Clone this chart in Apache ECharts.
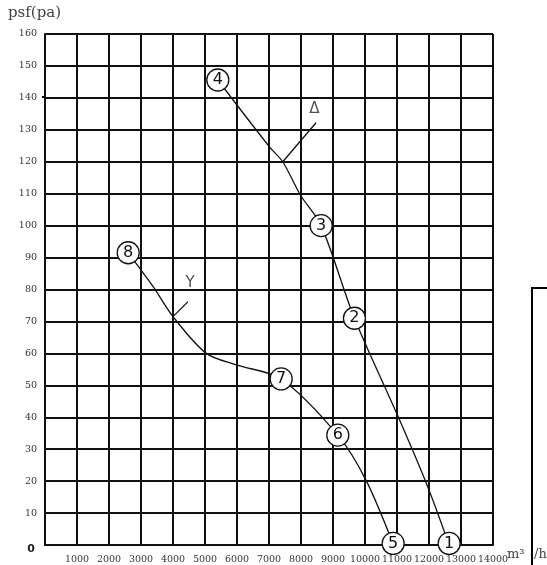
<html>

<head>
    <meta charset="utf-8">
    <script src="https://cdn.jsdelivr.net/npm/echarts@6/dist/echarts.min.js"></script>
    <style>
        body {
            margin: 0;
            background: #fff;
        }

        #chart {
            width: 547px;
            height: 565px;
        }
    </style>
</head>

<body>
    <div id="chart"></div>
    <script>
        // Δ connection curve (points 4-3-2-1), m3/h vs pa
        var deltaFlow = [5400, 7020, 7430, 7980, 8630, 9670, 11000, 11950, 12630];
        var deltaPress = [145.6, 124.6, 120, 109.6, 100, 71, 41, 18.5, 0];
        // Y connection curve (points 8-7-6-5)
        var starFlow = [2600, 3380, 4000, 5040, 5980, 7380, 9150, 10030, 10880];
        var starPress = [91.5, 80.9, 71.5, 60, 56.4, 52, 34.4, 20.3, 0.3];

        // numbered test points
        var pointIds = ['1', '2', '3', '4', '5', '6', '7', '8'];
        var pointFlow = [12630, 9670, 8630, 5400, 10880, 9150, 7380, 2600];
        var pointPress = [0.5, 71, 100, 145.6, 0.5, 34.4, 52, 91.5];

        // leader lines to the curve labels
        var deltaTag = [[7430, 120], [8470, 132.2]];
        var starTag = [[4000, 71.5], [4470, 76.2]];
        var tagNames = ['Δ', 'Y'];
        var tagPos = [[8420, 136.5], [4530, 82]];

        var xTicks = [1000, 2000, 3000, 4000, 5000, 6000, 7000, 8000, 9000, 10000, 11000, 12000, 13000, 14000];

        function pairs(xs, ys) {
            return xs.map(function (x, i) { return [x, ys[i]]; });
        }

        var serif = '"DejaVu Serif", "Liberation Serif", serif';
        var lineColor = '#111';

        var myChart = echarts.init(document.getElementById('chart'));
        var option = {
            animation: false,
            grid: { left: 45, top: 34, right: 54, bottom: 20, outerBoundsMode: 'none', containLabel: false },
            xAxis: {
                type: 'value',
                min: 0,
                max: 14000,
                interval: 1000,
                axisLine: { lineStyle: { color: lineColor, width: 2 } },
                axisTick: { show: false },
                splitLine: { lineStyle: { color: lineColor, width: 2 } },
                axisLabel: {
                    margin: 10,
                    fontFamily: serif,
                    fontSize: 9.5,
                    color: '#333',
                    showMaxLabel: true,
                    hideOverlap: false,
                    formatter: function (v) {
                        return xTicks.indexOf(v) < 0 ? '' : String(v);
                    }
                }
            },
            yAxis: {
                type: 'value',
                min: 0,
                max: 160,
                interval: 10,
                axisLine: { show: true, lineStyle: { color: lineColor, width: 2 } },
                axisTick: { show: false },
                splitLine: { lineStyle: { color: lineColor, width: 2 } },
                axisLabel: {
                    margin: 8,
                    fontFamily: serif,
                    fontSize: 9.5,
                    color: '#333',
                    formatter: function (v) {
                        return v === 0 ? '{zero|0}' : String(v);
                    },
                    rich: {
                        zero: {
                            fontFamily: '"DejaVu Sans", sans-serif',
                            fontSize: 11,
                            fontWeight: 'bold',
                            color: '#222',
                            padding: [8, 2, 0, 0]
                        }
                    }
                }
            },
            graphic: [
                {
                    type: 'text',
                    left: 8,
                    top: 6,
                    style: { text: 'psf(pa)', font: '15px ' + serif, fill: '#444' }
                },
                {
                    type: 'text',
                    left: 507,
                    top: 548,
                    style: { text: 'm³', font: '13px ' + serif, fill: '#444' }
                },
                {
                    type: 'text',
                    left: 534,
                    top: 548,
                    style: { text: '/h', font: '13px ' + serif, fill: '#444' }
                },
                {
                    type: 'polyline',
                    shape: { points: [[547, 288], [532, 288], [532, 565]] },
                    style: { stroke: '#000', lineWidth: 2, fill: null }
                },
                {
                    type: 'line',
                    shape: { x1: 42, y1: 97, x2: 46, y2: 97 },
                    style: { stroke: '#000', lineWidth: 2 }
                }
            ],
            series: [
                {
                    name: 'Δ',
                    type: 'line',
                    smooth: 0.3,
                    symbol: 'none',
                    lineStyle: { color: '#111', width: 1.3 },
                    data: pairs(deltaFlow, deltaPress),
                    z: 3
                },
                {
                    name: 'Y',
                    type: 'line',
                    smooth: 0.3,
                    symbol: 'none',
                    lineStyle: { color: '#111', width: 1.3 },
                    data: pairs(starFlow, starPress),
                    z: 3
                },
                {
                    type: 'line',
                    symbol: 'none',
                    lineStyle: { color: '#111', width: 1.3 },
                    data: deltaTag,
                    z: 3
                },
                {
                    type: 'line',
                    symbol: 'none',
                    lineStyle: { color: '#111', width: 1.3 },
                    data: starTag,
                    z: 3
                },
                {
                    type: 'scatter',
                    symbolSize: 0,
                    data: tagPos.map(function (p, i) { return { value: p, name: tagNames[i] }; }),
                    label: {
                        show: true,
                        position: 'inside',
                        formatter: '{b}',
                        fontFamily: '"DejaVu Sans", sans-serif',
                        fontSize: 15,
                        color: '#222'
                    },
                    z: 4
                },
                {
                    type: 'scatter',
                    symbol: 'circle',
                    symbolSize: 22,
                    itemStyle: { color: '#fff', borderColor: '#111', borderWidth: 1.3, opacity: 1 },
                    data: pointFlow.map(function (x, i) {
                        return { value: [x, pointPress[i]], name: pointIds[i] };
                    }),
                    label: {
                        show: true,
                        position: 'inside',
                        formatter: '{b}',
                        fontFamily: '"DejaVu Sans", sans-serif',
                        fontSize: 16,
                        color: '#111'
                    },
                    z: 5
                }
            ]
        };

        myChart.setOption(option);
        window.onresize = myChart.resize;
    </script>

</body>

</html>
